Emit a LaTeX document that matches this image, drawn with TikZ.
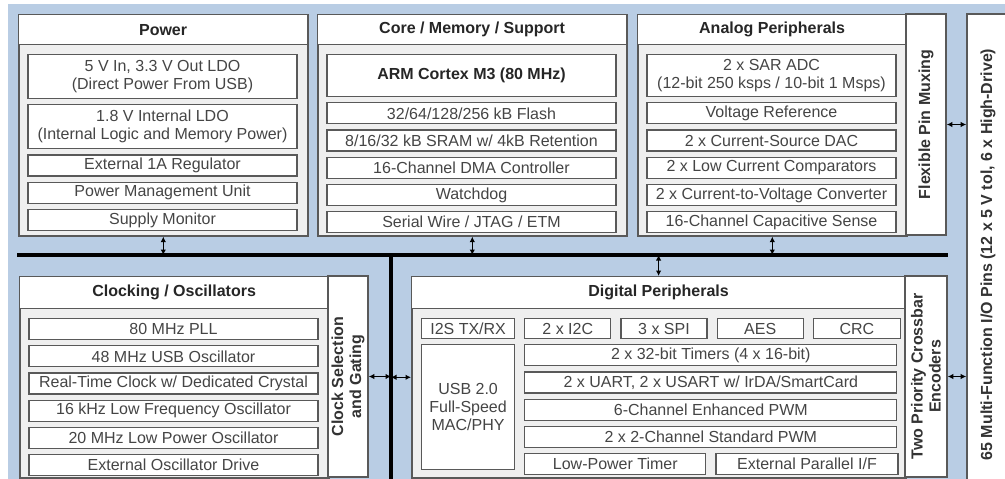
\documentclass[tikz,border=0pt]{standalone}
\usepackage{fontspec}
\setmainfont{Liberation Sans}
\usetikzlibrary{arrows.meta,positioning}
\definecolor{bluebg}{HTML}{B9CDE4}
\definecolor{panel}{HTML}{EFEFEF}
\definecolor{frame}{HTML}{595959}
\definecolor{ink}{HTML}{454545}

\begin{document}
\begin{tikzpicture}[x=1pt,y=-1pt,
    font=\fontsize{16}{18}\selectfont,
    group/.style={draw=frame,line width=1.6pt,fill=panel,anchor=north west,inner sep=0pt},
    head/.style={draw=frame,line width=1.2pt,fill=white,anchor=north west,inner sep=0pt,
                 minimum height=30pt,font=\fontsize{16}{18}\selectfont\bfseries,text=black!85},
    item/.style={draw=frame,line width=1.2pt,fill=white,inner sep=0pt,minimum height=21pt,
                 align=center,text=ink},
    pitem/.style={item,minimum width=269pt},
    citem/.style={item,minimum width=289pt},
    aitem/.style={item,minimum width=249pt},
    side/.style={draw=frame,line width=1.6pt,fill=white,inner sep=0pt,rotate=90,align=center,
                 font=\fontsize{16}{18}\selectfont\bfseries,text=black!80},
    bus/.style={line width=3.5pt,black},
    link/.style={{Latex[length=5.5pt,width=5.5pt]}-{Latex[length=5.5pt,width=5.5pt]},line width=1.2pt,black}
  ]
    \useasboundingbox (0,0) rectangle (1005,479);
    \fill[white] (0,0) rectangle (1005,479);
    \fill[bluebg] (8,4) rectangle (1010,485);

    % Power
    \node[group,minimum width=289pt,minimum height=221pt] (pwr) at (18,14) {};
    \node[head,minimum width=289pt] (pwrhd) at (18,14) {Power};
    \node[pitem,minimum height=44pt,anchor=north] (p1) at (162.5,54) {5 V In, 3.3 V Out LDO\\(Direct Power From USB)};
    \node[pitem,minimum height=44pt,below=5pt of p1] (p2) {1.8 V Internal LDO\\(Internal Logic and Memory Power)};
    \node[pitem,below=5pt of p2] (p3) {External 1A Regulator};
    \node[pitem,below=5pt of p3] (p4) {Power Management Unit};
    \node[pitem,below=5pt of p4] (p5) {Supply Monitor};

    % Core / Memory / Support
    \node[group,minimum width=309pt,minimum height=221pt] (core) at (317,14) {};
    \node[head,minimum width=309pt] (corehd) at (317,14) {Core / Memory / Support};
    \node[citem,minimum height=42pt,anchor=north,font=\fontsize{16}{18}\selectfont\bfseries,text=black!85] (c1) at (471.5,54) {ARM Cortex M3 (80 MHz)};
    \node[citem,below=5pt of c1] (c2) {32/64/128/256 kB Flash};
    \node[citem,below=5pt of c2] (c3) {8/16/32 kB SRAM w/ 4kB Retention};
    \node[citem,below=5pt of c3] (c4) {16-Channel DMA Controller};
    \node[citem,below=5pt of c4] (c5) {Watchdog};
    \node[citem,below=5pt of c5] (c6) {Serial Wire / JTAG / ETM};

    % Analog Peripherals
    \node[group,minimum width=269pt,minimum height=221pt] (ana) at (637,14) {};
    \node[head,minimum width=269pt] (anahd) at (637,14) {Analog Peripherals};
    \node[aitem,minimum height=42pt,anchor=north] (a1) at (771.5,54) {2 x SAR ADC\\(12-bit 250 ksps / 10-bit 1 Msps)};
    \node[aitem,below=5pt of a1] (a2) {Voltage Reference};
    \node[aitem,below=5pt of a2] (a3) {2 x Current-Source DAC};
    \node[aitem,below=5pt of a3] (a4) {2 x Low Current Comparators};
    \node[aitem,below=5pt of a4] (a5) {2 x Current-to-Voltage Converter};
    \node[aitem,below=5pt of a5] (a6) {16-Channel Capacitive Sense};
    \node[side,minimum width=221pt,minimum height=40pt] (flex) at (926,124.5) {Flexible Pin Muxing};

    % Clocking / Oscillators
    \node[group,minimum width=309pt,minimum height=201pt] (clk) at (19,276) {};
    \node[head,minimum width=309pt,minimum height=32pt] (clkhd) at (19,276) {Clocking / Oscillators};
    \node[citem,anchor=north] (k1) at (173.5,318) {80 MHz PLL};
    \node[citem,below=5pt of k1] (k2) {48 MHz USB Oscillator};
    \node[citem,below=5pt of k2] (k3) {Real-Time Clock w/ Dedicated Crystal};
    \node[citem,below=5pt of k3] (k4) {16 kHz Low Frequency Oscillator};
    \node[citem,below=5pt of k4] (k5) {20 MHz Low Power Oscillator};
    \node[citem,below=5pt of k5] (k6) {External Oscillator Drive};
    \node[side,minimum width=201pt,minimum height=40pt] (clksel) at (348,376.5) {Clock Selection\\and Gating};

    % Digital Peripherals
    \node[group,minimum width=494pt,minimum height=201pt] (dig) at (411,276) {};
    \node[head,minimum width=494pt,minimum height=32pt] (dighd) at (411,276) {Digital Peripherals};
    \node[item,anchor=north west,minimum width=93pt,minimum height=20pt] (i2s) at (421,318) {I2S TX/RX};
    \node[item,minimum width=86pt,minimum height=20pt,right=9pt of i2s] (i2c) {2 x I2C};
    \node[item,minimum width=86pt,minimum height=20pt,right=9pt of i2c] (spi) {3 x SPI};
    \node[item,minimum width=86pt,minimum height=20pt,right=9pt of spi] (aes) {AES};
    \node[item,minimum width=87pt,minimum height=20pt,right=9pt of aes] (crc) {CRC};
    \node[item,minimum width=93pt,minimum height=125pt,below=5pt of i2s] (usb) {USB 2.0\\Full-Speed\\MAC/PHY};
    \node[item,minimum width=372pt,below=5pt of i2c.south west,anchor=north west] (d1) {2 x 32-bit Timers (4 x 16-bit)};
    \node[item,minimum width=372pt,below=5pt of d1] (d2) {2 x UART, 2 x USART w/ IrDA/SmartCard};
    \node[item,minimum width=372pt,below=5pt of d2] (d3) {6-Channel Enhanced PWM};
    \node[item,minimum width=372pt,below=5pt of d3] (d4) {2 x 2-Channel Standard PWM};
    \node[item,minimum width=181pt,below=5pt of d4.south west,anchor=north west] (lpt) {Low-Power Timer};
    \node[item,minimum width=182pt,right=9pt of lpt] (epi) {External Parallel I/F};
    \node[side,minimum width=201pt,minimum height=42pt] (xbar) at (926,376.5) {Two Priority Crossbar\\Encoders};

    % I/O pins
    \node[side,minimum width=481pt,minimum height=42pt] (pins) at (988,254.5) {65 Multi-Function I/O Pins (12 x 5 V tol, 6 x High-Drive)};

    % buses
    \coordinate (busL) at (17,255);
    \coordinate (busR) at (948,255);
    \coordinate (busT) at (391,255);
    \coordinate (busB) at (391,485);
    \draw[bus] (busL) -- (busR);
    \draw[bus] (busT) -- (busB);

    % links
    \draw[link] (pwr.south) -- (pwr.south |- busL);
    \draw[link] (core.south) -- (core.south |- busL);
    \draw[link] (ana.south) -- (ana.south |- busL);
    \draw[link] (dighd.north |- busL) -- (dighd.north);
    \draw[link] (clksel.south) -- (clksel.south -| busT);
    \draw[link] (busT |- dig.west) -- (dig.west);
    \draw[link] (flex.south) -- (flex.south -| pins.north);
    \draw[link] (xbar.south) -- (xbar.south -| pins.north);
  \end{tikzpicture}
\end{document}
